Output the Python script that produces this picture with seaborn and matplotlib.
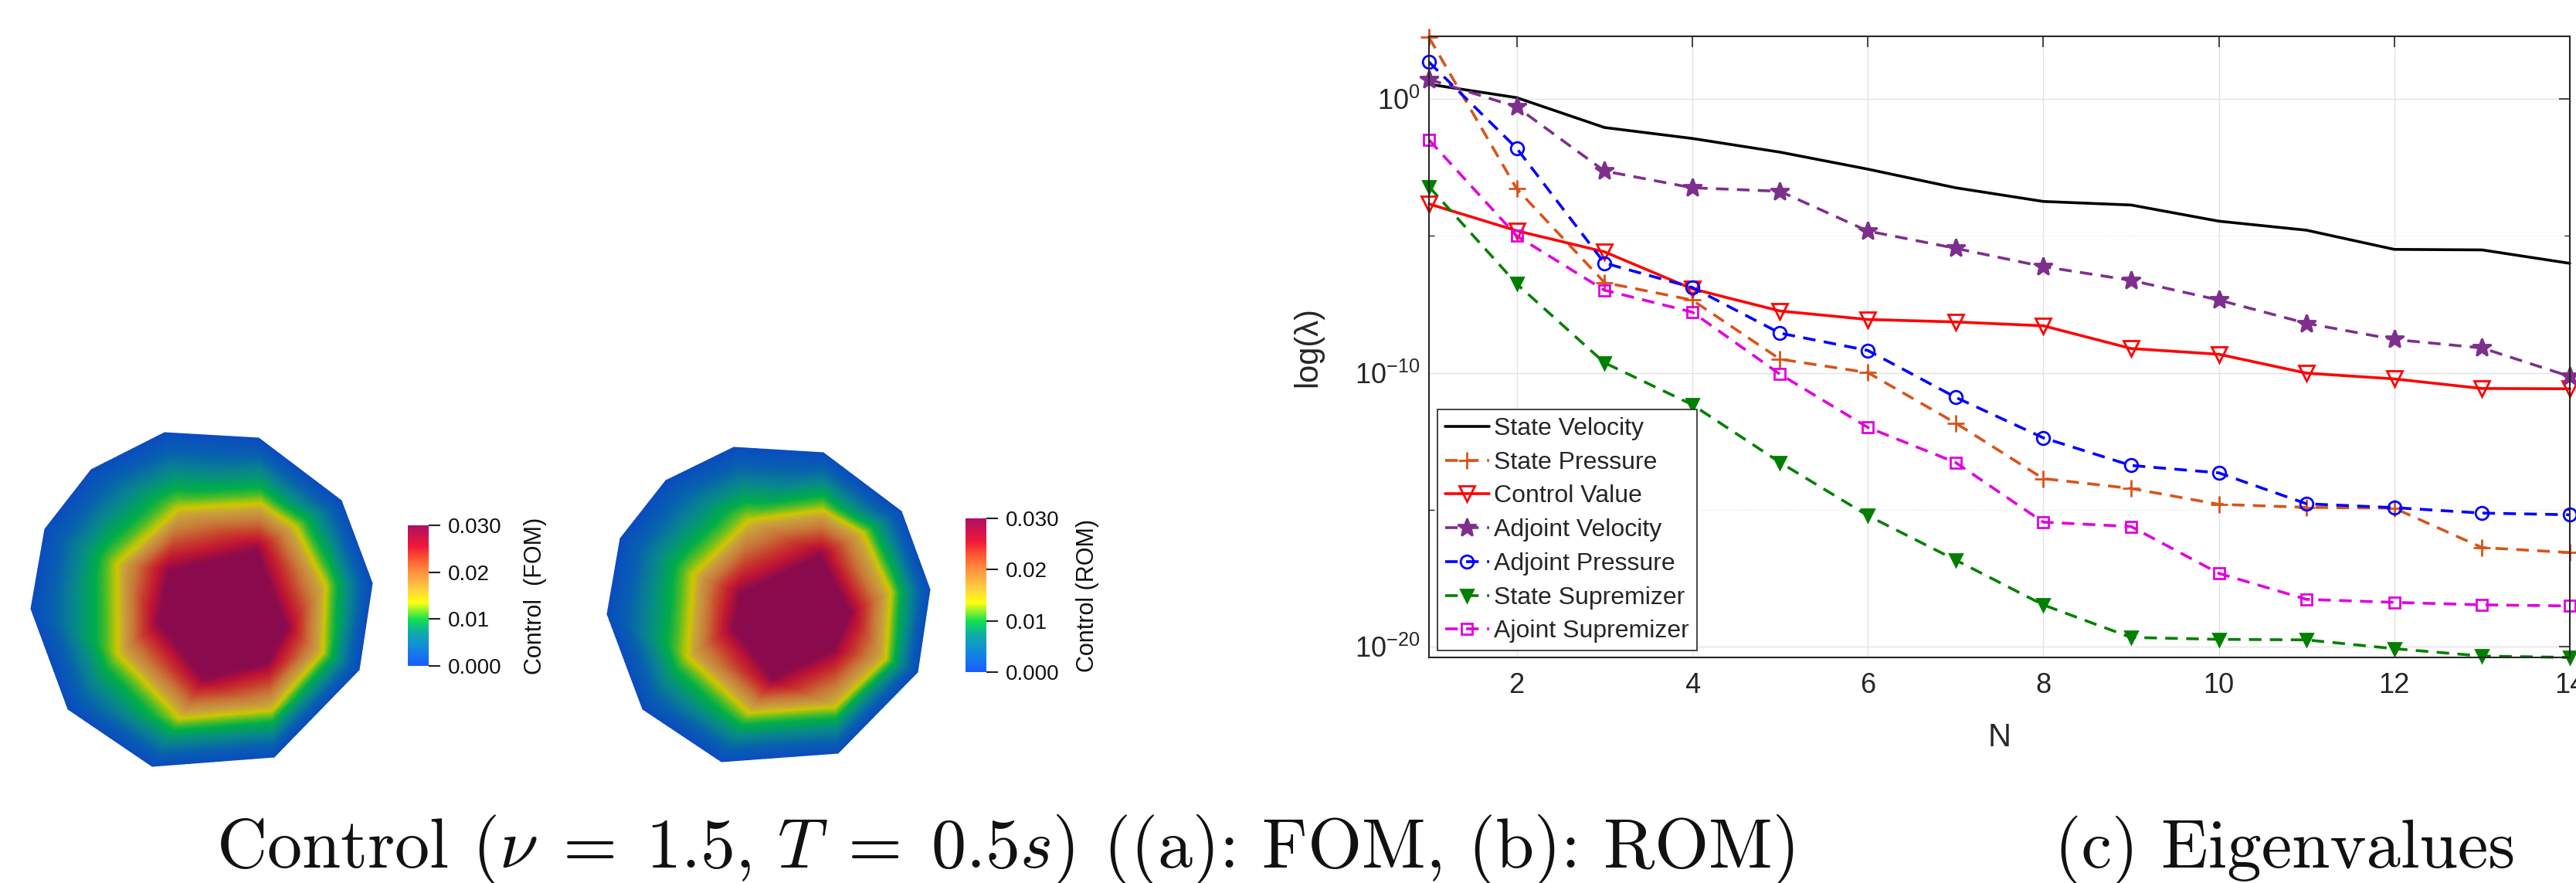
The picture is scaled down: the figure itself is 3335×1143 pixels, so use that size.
import numpy as np
import pandas as pd
import matplotlib
matplotlib.use("Agg")
import matplotlib.pyplot as plt
import seaborn as sns
import matplotlib.tri as mtri
from matplotlib.colors import LinearSegmentedColormap, Normalize
from matplotlib.cm import ScalarMappable
from matplotlib.ticker import FixedLocator, LogFormatterMathtext, NullFormatter

# ---------------- data: eigenvalue decay (log10 of lambda) ----------------
N = list(range(1, 15))
state_velocity = [0.54, 0.05, -1.04, -1.44, -1.94, -2.56, -3.24, -3.74, -3.87, -4.46, -4.79, -5.49, -5.51, -6.00]
state_pressure = [2.25, -3.28, -6.70, -7.34, -9.50, -9.99, -11.83, -13.86, -14.22, -14.80, -14.91, -14.94, -16.38, -16.56]
control_value = [-3.83, -4.81, -5.58, -6.93, -7.74, -8.05, -8.14, -8.28, -9.11, -9.32, -10.01, -10.22, -10.57, -10.58]
adjoint_velocity = [0.72, -0.29, -2.63, -3.24, -3.37, -4.82, -5.45, -6.12, -6.62, -7.34, -8.19, -8.78, -9.09, -10.13]
adjoint_pressure = [1.35, -1.80, -5.99, -6.88, -8.55, -9.18, -10.89, -12.37, -13.38, -13.65, -14.78, -14.92, -15.12, -15.18]
state_supremizer = [-3.20, -6.75, -9.63, -11.16, -13.27, -15.21, -16.83, -18.47, -19.66, -19.73, -19.75, -20.07, -20.34, -20.39]
ajoint_supremizer = [-1.49, -5.00, -6.98, -7.78, -10.05, -11.99, -13.27, -15.45, -15.61, -17.32, -18.27, -18.38, -18.47, -18.51]
series_labels = ["State Velocity", "State Pressure", "Control Value", "Adjoint Velocity",
                 "Adjoint Pressure", "State Supremizer", "Ajoint Supremizer"]
x_ticks = [2, 4, 6, 8, 10, 12, 14]
y_major_exp = [-20, -10, 0]
y_minor_exp = [-15, -5]

# ---------------- data: control field nodes (FOM / ROM) ----------------
fom_outer_x = [213, 335, 442, 482, 465, 355, 197, 88, 40, 58, 118]
fom_outer_y = [560, 567, 648, 755, 867, 980, 992, 918, 788, 685, 608]
fom_ring_x = [232, 338, 383, 422, 418, 352, 233, 153, 152]
fom_ring_y = [658, 652, 682, 758, 845, 920, 930, 847, 730]
fom_core_x = [217, 333, 373, 347, 263, 203, 290]
fom_core_y = [737, 710, 813, 860, 880, 807, 790]
fom_outer_val = [0.0] * 11
fom_ring_val = [0.0145] * 9
fom_core_val = [0.0295, 0.0295, 0.0295, 0.0295, 0.0295, 0.0295, 0.034]

rom_outer_x = [950, 1066, 1167, 1204, 1188, 1085, 934, 832, 786, 803, 862]
rom_outer_y = [579, 586, 662, 763, 870, 975, 986, 918, 795, 697, 622]
rom_ring_x = [970, 1065, 1118, 1153, 1147, 1082, 970, 890, 898]
rom_ring_y = [673, 660, 690, 767, 853, 915, 923, 850, 743]
rom_core_x = [957, 1063, 1103, 1080, 1000, 947, 1030]
rom_core_y = [767, 717, 793, 843, 880, 813, 793]
rom_outer_val = [0.0] * 11
rom_ring_val = [0.0145] * 9
rom_core_val = [0.0295, 0.0295, 0.0295, 0.0295, 0.0295, 0.0295, 0.034]

cbar_ticks = [0.0, 0.01, 0.02, 0.03]
cbar_ticklabels = ["0.000", "0.01", "0.02", "0.030"]

# ---------------- style ----------------
sns.set_style("white")
plt.rcParams["font.family"] = ["Liberation Sans", "DejaVu Sans"]
plt.rcParams["mathtext.fontset"] = "custom"
plt.rcParams["mathtext.rm"] = "Liberation Sans"
plt.rcParams["mathtext.it"] = "Liberation Sans:italic"
plt.rcParams["mathtext.bf"] = "Liberation Sans:bold"

W, H = 3335, 1143
fig = plt.figure(figsize=(W / 100, H / 100), dpi=100)
fig.patch.set_facecolor("white")

# ---------------- left: field plots ----------------
fax = fig.add_axes([0, 0, 1, 1])
fax.set_xlim(0, W)
fax.set_ylim(H, 0)
fax.axis("off")
fax.patch.set_visible(False)

field_cmap = LinearSegmentedColormap.from_list("field", [
    (0.0, "#0a4cc0"), (0.12, "#0860b0"), (0.25, "#088a8a"), (0.36, "#00ae48"),
    (0.42, "#50bc28"), (0.48, "#cfc800"), (0.56, "#c8a040"), (0.68, "#c87838"),
    (0.80, "#c83c2c"), (0.90, "#c01434"), (1.0, "#8a0a4e")])
bar_cmap = LinearSegmentedColormap.from_list("bar", [
    (0.0, "#1a5cff"), (0.15, "#1090d8"), (0.25, "#10b0a0"), (0.33, "#10e050"),
    (0.45, "#ffff10"), (0.55, "#ffcc40"), (0.67, "#ff9040"), (0.75, "#ff6030"),
    (0.85, "#f01838"), (1.0, "#b01060")])
norm = Normalize(vmin=0.0, vmax=0.03)

for ox, oy, rx, ry, cx, cy, ov, rv, cv in [
        (fom_outer_x, fom_outer_y, fom_ring_x, fom_ring_y, fom_core_x, fom_core_y,
         fom_outer_val, fom_ring_val, fom_core_val),
        (rom_outer_x, rom_outer_y, rom_ring_x, rom_ring_y, rom_core_x, rom_core_y,
         rom_outer_val, rom_ring_val, rom_core_val)]:
    px = np.array(ox + rx + cx, dtype=float)
    py = np.array(oy + ry + cy, dtype=float)
    pv = np.array(ov + rv + cv, dtype=float)
    tri = mtri.Triangulation(px, py)
    refiner = mtri.UniformTriRefiner(tri)
    lin = mtri.LinearTriInterpolator(tri, pv)
    tri_r, pv_r = refiner.refine_field(pv, triinterpolator=lin, subdiv=4)
    fax.tripcolor(tri_r, pv_r, shading="gouraud", cmap=field_cmap, norm=norm,
                  antialiased=True)


def add_cbar(x0, x1, y0, y1, title, title_x):
    cax = fig.add_axes([x0 / W, (H - y1) / H, (x1 - x0) / W, (y1 - y0) / H])
    cb = fig.colorbar(ScalarMappable(norm=norm, cmap=bar_cmap), cax=cax)
    cb.outline.set_visible(False)
    cb.set_ticks(cbar_ticks)
    cb.set_ticklabels(cbar_ticklabels)
    cax.tick_params(axis="y", direction="out", length=11, width=1.5, color="#222222",
                    labelsize=20, pad=7, labelcolor="#111111")
    cax.set_ylabel(title, fontsize=22, rotation=90, va="center", ha="center", color="#111111")
    cax.yaxis.set_label_position("right")
    cax.yaxis.set_label_coords((title_x - x0) / (x1 - x0), 0.5)


add_cbar(528, 555, 680, 862, "Control  (FOM)", 678)
add_cbar(1250, 1277, 671, 870, "Control (ROM)", 1393)

# ---------------- right: eigenvalues ----------------
ax = fig.add_axes([1850 / W, (H - 851) / H, (3327 - 1850) / W, (851 - 47) / H])

styles = [
    dict(color="black", ls="-", marker=None, ms=0, mfc="none"),
    dict(color="#D95319", ls="--", marker="+", ms=16, mfc="none"),
    dict(color="#FF0000", ls="-", marker="v", ms=14, mfc="none"),
    dict(color="#7E2F8E", ls="--", marker="*", ms=18, mfc="#7E2F8E"),
    dict(color="#0000FF", ls="--", marker="o", ms=12, mfc="none"),
    dict(color="#008000", ls="--", marker="v", ms=12, mfc="#008000"),
    dict(color="#E000E0", ls="--", marker="s", ms=10, mfc="none"),
]
all_series = [state_velocity, state_pressure, control_value, adjoint_velocity,
              adjoint_pressure, state_supremizer, ajoint_supremizer]

for vals, lab, st in zip(all_series, series_labels, styles):
    df = pd.DataFrame({"N": N, "lam": 10.0 ** np.array(vals)})
    kw = dict(color=st["color"], linewidth=2.6, label=lab, clip_on=False)
    if st["marker"] is not None:
        kw.update(marker=st["marker"], markersize=st["ms"], markerfacecolor=st["mfc"],
                  markeredgecolor=st["color"], markeredgewidth=2.0)
    sns.lineplot(data=df, x="N", y="lam", ax=ax, errorbar=None, **kw)
    ln = ax.lines[-1]
    if st["ls"] == "--":
        ln.set_dashes([4.5, 3.0])

ax.set_yscale("log")
ax.set_xlim(1, 14)
ax.set_ylim(10.0 ** -20.39, 10.0 ** 2.29)
ax.xaxis.set_major_locator(FixedLocator(x_ticks))
ax.yaxis.set_major_locator(FixedLocator([10.0 ** e for e in y_major_exp]))
ax.yaxis.set_major_formatter(LogFormatterMathtext())
ax.yaxis.set_minor_locator(FixedLocator([10.0 ** e for e in y_minor_exp]))
ax.yaxis.set_minor_formatter(NullFormatter())
ax.tick_params(axis="both", which="major", direction="in", length=10, width=1.2,
               colors="#262626", labelsize=26, top=True, right=True)
ax.tick_params(axis="x", which="major", pad=14)
ax.tick_params(axis="y", which="major", pad=8)
ax.tick_params(axis="y", which="minor", direction="in", length=5, width=1.0,
               colors="#262626", left=True, right=True)
ax.grid(True, which="major", color="#e3e3e3", linewidth=1.0)
ax.grid(True, which="minor", axis="y", color="#e8e8e8", linewidth=1.0, linestyle=":")
ax.set_axisbelow(True)
for sp in ax.spines.values():
    sp.set_color("#262626")
    sp.set_linewidth(1.5)
ax.set_xlabel("N", fontsize=30, color="#262626")
ax.set_ylabel("log(λ)", fontsize=30, color="#262626", va="center")
ax.xaxis.set_label_coords(0.5, -0.104)
ax.yaxis.set_label_coords(-0.106, 0.5)

handles, labels = ax.get_legend_handles_labels()
leg = ax.legend(handles, labels, loc="lower left", bbox_to_anchor=(11 / 1477, 9 / 804),
                borderaxespad=0, fontsize=23, frameon=True, fancybox=False,
                edgecolor="#262626", framealpha=1.0, handlelength=1.8,
                handletextpad=0.2, labelspacing=0.43, borderpad=0.3)
leg.get_frame().set_linewidth(1.2)

# ---------------- captions ----------------
fig.text(280 / W, 20 / H, r"Control ($\nu\;=\;1.5$, $T\;=\;0.5s$) ((a): FOM, (b): ROM)",
         fontfamily="cmr10", math_fontfamily="cm", fontsize=65, va="baseline", ha="left",
         color="#111111")
fig.text(2660 / W, 20 / H, "(c) Eigenvalues", fontfamily="cmr10", math_fontfamily="cm",
         fontsize=64, va="baseline", ha="left", color="#111111")

fig.savefig("out.png", dpi=100, facecolor="white")
